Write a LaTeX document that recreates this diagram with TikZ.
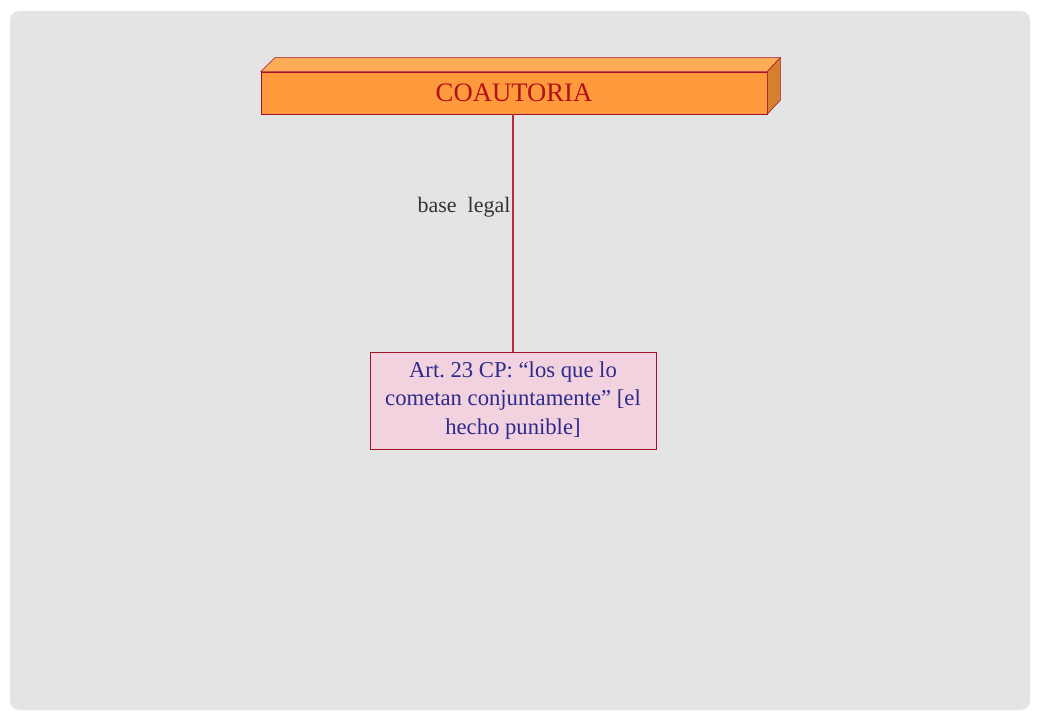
\documentclass[tikz,border=0pt]{standalone}
\usepackage{fontspec}
\setmainfont{Liberation Serif}
\frenchspacing
\usetikzlibrary{positioning, calc, backgrounds}
\definecolor{panelgray}{HTML}{E4E4E4}
\definecolor{boxorange}{HTML}{FF9A3C}
\definecolor{boxtop}{HTML}{FFAC58}
\definecolor{boxside}{HTML}{D67F2E}
\definecolor{edgered}{HTML}{A3122A}
\definecolor{linkred}{HTML}{C0283C}
\definecolor{titlered}{HTML}{B0101A}
\definecolor{notepink}{HTML}{F2D2DE}
\definecolor{noteblue}{HTML}{2E2A8C}
\tikzset{
    titlebox/.style={draw=edgered, fill=boxorange, rectangle, minimum width=379.5pt,
        minimum height=31.5pt, inner sep=0pt, text=titlered, font=\fontsize{20}{24}\selectfont},
    notebox/.style={draw=edgered, fill=notepink, rectangle, minimum width=214.5pt,
        minimum height=72.75pt, align=center, inner sep=0pt,
        text=noteblue, font=\fontsize{17}{21.5}\selectfont},
    link/.style={draw=linkred, line width=0.8pt},
    linklabel/.style={text=black!80, font=\fontsize{16.5}{19}\selectfont, inner sep=1pt}
}
\begin{document}
\begin{tikzpicture}[x=0.75pt, y=-0.75pt]
    % page and panel
    \useasboundingbox (0,0) rectangle (1040,720);
    \fill[white] (0,0) rectangle (1040,720);
    \fill[panelgray, rounded corners=7pt] (10,11) rectangle (1030,710);
    % title block with 3d faces
    \node[titlebox] (coa) at (514,93) {COAUTORIA};
    \fill[boxtop, draw=edgered] (coa.north west) -- ++(14,-14) -- ($(coa.north east)+(13,-14)$) -- (coa.north east) -- cycle;
    \fill[boxside, draw=edgered] (coa.north east) -- ++(13,-14) -- ($(coa.south east)+(13,-14)$) -- (coa.south east) -- cycle;
    % legal basis
    \node[notebox] (art) at (513,400.5) {Art. 23 CP: “los que lo\\cometan conjuntamente” [el\\hecho punible]};
    \path[link] (coa.south -| art.north) -- (art.north);
    \node[linklabel, anchor=east] (base) at (512,207) {base\enspace legal};
\end{tikzpicture}
\end{document}
